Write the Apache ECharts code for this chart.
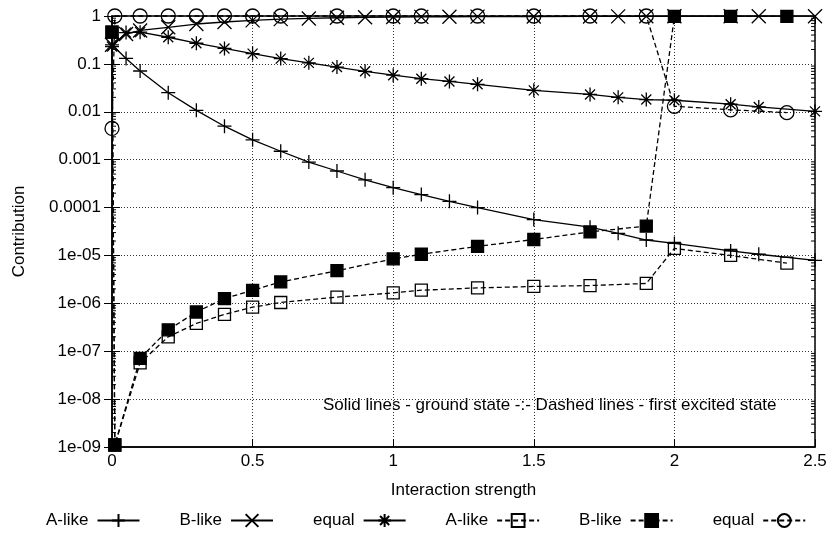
<!DOCTYPE html>
<html>
<head>
<meta charset="utf-8">
<script src="https://cdn.jsdelivr.net/npm/echarts@6/dist/echarts.min.js"></script>
<style>
  html, body { margin: 0; padding: 0; background: #fff; }
  #chart { width: 831px; height: 539px; }
</style>
</head>
<body>
<div id="chart"></div>
<script>
// x positions of the ground state (solid) and excited state (dashed) runs
const xSolid = [0, 0.05, 0.1, 0.2, 0.3, 0.4, 0.5, 0.6, 0.7, 0.8, 0.9, 1.0, 1.1, 1.2, 1.3, 1.5, 1.7, 1.8, 1.9, 2.0, 2.2, 2.3, 2.5];
const xDashed = [0, 0.01, 0.1, 0.2, 0.3, 0.4, 0.5, 0.6, 0.8, 1.0, 1.1, 1.3, 1.5, 1.7, 1.9, 2.0, 2.2, 2.4];

// ground state
const aSolid = [0.25, 0.13, 0.071, 0.025, 0.0107, 0.005, 0.0026, 0.0015, 0.00089, 0.00058, 0.00038, 0.00026, 0.000187, 0.000135, 0.0001, 5.6e-5, 3.9e-5, 2.9e-5, 2.1e-5, 1.78e-5, 1.24e-5, 1.06e-5, 7.9e-6];
const bSolid = [0.25, 0.42, 0.5, 0.58, 0.68, 0.75, 0.81, 0.86, 0.89, 0.92, 0.94, 0.95, 0.96, 0.965, 0.97, 0.975, 0.98, 0.983, 0.985, 0.987, 0.99, 0.99, 0.99];
const eqSolid = [0.23, 0.45, 0.46, 0.36, 0.27, 0.21, 0.164, 0.129, 0.105, 0.086, 0.07, 0.058, 0.049, 0.043, 0.0375, 0.028, 0.023, 0.02, 0.018, 0.0174, 0.0144, 0.0126, 0.0102];

// first excited state
const aDashed = [0.46, 1.1e-9, 5.7e-8, 2.0e-7, 3.8e-7, 5.9e-7, 8.3e-7, 1.04e-6, 1.35e-6, 1.65e-6, 1.88e-6, 2.1e-6, 2.25e-6, 2.35e-6, 2.6e-6, 1.4e-5, 1.0e-5, 6.9e-6];
const bDashed = [0.46, 1.1e-9, 7.1e-8, 2.8e-7, 6.6e-7, 1.26e-6, 1.87e-6, 2.8e-6, 4.8e-6, 8.5e-6, 1.06e-5, 1.55e-5, 2.15e-5, 3.1e-5, 4.1e-5, 0.98, 0.98, 0.98];
const eqDashed = [0.0045, 1, 1, 1, 1, 1, 1, 1, 1, 1, 1, 1, 1, 1, 1, 0.013, 0.011, 0.0096];

const xTickLabels = ['0', '0.5', '1', '1.5', '2', '2.5'];
const yTickLabels = ['1e-09', '1e-08', '1e-07', '1e-06', '1e-05', '0.0001', '0.001', '0.01', '0.1', '1'];
const legendLabels = ['A-like', 'B-like', 'equal', 'A-like', 'B-like', 'equal'];
const seriesNames = ['A-like g', 'B-like g', 'equal g', 'A-like e', 'B-like e', 'equal e'];
const note = 'Solid lines - ground state -:- Dashed lines - first excited state';

// minor ticks of the log axis (2..9 in each decade)
const yMinor = [];
for (let e = -9; e < 0; e++) {
  for (let m = 2; m <= 9; m++) yMinor.push(m * Math.pow(10, e));
}

const FONT = 'Liberation Sans';
const FS = 17;
const plusPath = 'path://M0,7L14,7M7,0L7,14';
const crossPath = 'path://M1,1L13,13M13,1L1,13';
const starPath = 'path://M0,7L14,7M7,0L7,14M2,2L12,12M12,2L2,12';

const zip = (xs, ys) => xs.map((x, i) => [x, ys[i]]);

function lineSeries(name, xs, ys, symbol, fill, dashed) {
  return {
    name: name,
    type: 'line',
    data: zip(xs, ys),
    symbol: symbol,
    symbolSize: symbol === 'rect' ? 12 : 14,
    showAllSymbol: true,
    clip: false,
    animation: false,
    lineStyle: { color: '#000', width: 1.3, type: dashed ? [5, 3] : 'solid' },
    itemStyle: { color: fill, borderColor: '#000', borderWidth: 1.3 },
    emphasis: { disabled: true }
  };
}

const chart = echarts.init(document.getElementById('chart'));

const option = {
  backgroundColor: '#fff',
  textStyle: { fontFamily: FONT, color: '#000' },
  grid: { left: 112, right: 16, top: 16, bottom: 92, show: true, borderColor: '#000', borderWidth: 1.5, backgroundColor: 'transparent' },
  xAxis: [{
    type: 'value', min: 0, max: 2.5, interval: 0.5,
    name: 'Interaction strength', nameLocation: 'middle', nameGap: 35,
    nameTextStyle: { fontSize: FS, color: '#000', fontFamily: FONT },
    axisLine: { lineStyle: { color: '#000', width: 1.5 } },
    axisTick: { inside: true, length: 8, lineStyle: { color: '#000' } },
    axisLabel: { fontSize: FS, color: '#000', margin: 6, fontFamily: FONT, formatter: (v, i) => xTickLabels[i] },
    splitLine: { show: true, lineStyle: { color: '#333', type: [1, 2], width: 1 } }
  }, {
    type: 'value', min: 0, max: 2.5, interval: 0.5, position: 'top',
    axisLine: { show: false },
    axisTick: { inside: true, length: 8, lineStyle: { color: '#000' } },
    axisLabel: { show: false },
    splitLine: { show: false }
  }],
  yAxis: [{
    type: 'log', logBase: 10, min: 1e-9, max: 1,
    name: 'Contribution', nameLocation: 'middle', nameGap: 84,
    nameTextStyle: { fontSize: FS, color: '#000', fontFamily: FONT },
    axisLine: { show: true, lineStyle: { color: '#000', width: 1.5 } },
    axisTick: { inside: true, length: 8, lineStyle: { color: '#000' } },
    axisLabel: { fontSize: FS, color: '#000', margin: 11, fontFamily: FONT,
      formatter: v => yTickLabels[Math.round(Math.log10(v)) + 9] },
    splitLine: { show: true, lineStyle: { color: '#333', type: [1, 2], width: 1 } }
  }, {
    type: 'log', logBase: 10, min: 1e-9, max: 1, position: 'right',
    axisLine: { show: false },
    axisTick: { inside: true, length: 8, lineStyle: { color: '#000' } },
    axisLabel: { show: false },
    splitLine: { show: false }
  }],
  legend: {
    data: seriesNames,
    formatter: name => legendLabels[seriesNames.indexOf(name)],
    left: 41, top: 507, orient: 'horizontal',
    align: 'right',
    itemWidth: 42, itemHeight: 16, itemGap: 39,
    selectedMode: false,
    textStyle: { fontSize: FS, color: '#000', fontFamily: FONT, padding: [0, 4, 0, 0] }
  },
  graphic: [{
    type: 'text', left: 323, top: 397,
    style: { text: note, fontSize: FS, fontFamily: FONT, fill: '#000' }
  }],
  series: [
    lineSeries(seriesNames[0], xSolid, aSolid, plusPath, 'transparent', false),
    lineSeries(seriesNames[1], xSolid, bSolid, crossPath, 'transparent', false),
    lineSeries(seriesNames[2], xSolid, eqSolid, starPath, 'transparent', false),
    lineSeries(seriesNames[3], xDashed, aDashed, 'rect', 'transparent', true),
    lineSeries(seriesNames[4], xDashed, bDashed, 'rect', '#000', true),
    lineSeries(seriesNames[5], xDashed, eqDashed, 'circle', 'transparent', true),
    {
      // log minor ticks on the left and right frame
      type: 'custom',
      silent: true,
      animation: false,
      data: yMinor.map(v => [0, v]),
      renderItem: function (params, api) {
        const v = api.value(1);
        const l = api.coord([0, v]);
        const r = api.coord([2.5, v]);
        return {
          type: 'group',
          children: [
            { type: 'line', shape: { x1: l[0], y1: l[1], x2: l[0] + 4, y2: l[1] }, style: { stroke: '#000', lineWidth: 1 } },
            { type: 'line', shape: { x1: r[0] - 4, y1: r[1], x2: r[0], y2: r[1] }, style: { stroke: '#000', lineWidth: 1 } }
          ]
        };
      }
    }
  ]
};

chart.setOption(option);
</script>
</body>
</html>
